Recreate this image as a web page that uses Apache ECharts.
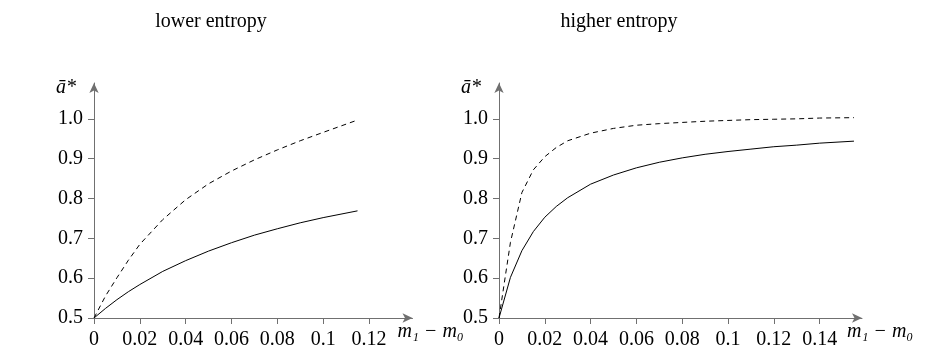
<!DOCTYPE html>
<html>
<head>
<meta charset="utf-8">
<script src="https://cdn.jsdelivr.net/npm/echarts@6/dist/echarts.min.js"></script>
<style>
html,body{margin:0;padding:0;background:#fff;}
#chart{width:930px;height:350px;}
</style>
</head>
<body>
<div id="chart"></div>
<script>
// ---- data ----
const titles = ['lower entropy', 'higher entropy'];
const yTicks = [0.5, 0.6, 0.7, 0.8, 0.9, 1.0];
const xTicksLeft = [0, 0.02, 0.04, 0.06, 0.08, 0.1, 0.12];
const xTicksRight = [0, 0.02, 0.04, 0.06, 0.08, 0.1, 0.12, 0.14];

const xLeft = [0, 0.005, 0.01, 0.015, 0.02, 0.03, 0.04, 0.05, 0.06, 0.07, 0.08, 0.09, 0.1, 0.115];
const leftSolid = [0.5, 0.524, 0.546, 0.566, 0.584, 0.617, 0.644, 0.668, 0.689, 0.708, 0.724, 0.739, 0.752, 0.769];
const leftDashed = [0.5, 0.555, 0.601, 0.645, 0.685, 0.747, 0.797, 0.837, 0.869, 0.897, 0.922, 0.945, 0.966, 0.997];

const xRight = [0, 0.005, 0.01, 0.015, 0.02, 0.025, 0.03, 0.04, 0.05, 0.06, 0.07, 0.08, 0.09, 0.1, 0.11, 0.12, 0.13, 0.14, 0.155];
const rightSolid = [0.5, 0.602, 0.669, 0.717, 0.753, 0.78, 0.802, 0.836, 0.859, 0.877, 0.891, 0.902, 0.911, 0.918, 0.924, 0.93, 0.934, 0.939, 0.944];
const rightDashed = [0.5, 0.69, 0.815, 0.872, 0.905, 0.928, 0.945, 0.964, 0.976, 0.984, 0.988, 0.991, 0.994, 0.996, 0.998, 0.999, 1.0, 1.002, 1.003];

const yName = 'ā*';
const xName = 'm₁ − m₀';

// ---- chart ----
const FONT = '"Liberation Serif", "DejaVu Serif", serif';
const AX = '#707070';
const FS = 20;
const chart = echarts.init(document.getElementById('chart'), null, {renderer: 'canvas'});

function pairs(xs, ys) { return xs.map((x, i) => [x, ys[i]]); }

function xAxisCfg(idx, max, ticks) {
  return {
    type: 'value', gridIndex: idx, min: 0, max: max,
    name: xName, nameLocation: 'end', nameGap: -15,
    nameTextStyle: {fontFamily: FONT, fontSize: FS, fontStyle: 'italic', color: '#000', verticalAlign: 'top', align: 'left', padding: [4, 0, 0, 0]},
    axisLine: {show: true, onZero: false, symbol: ['none', 'arrow'], symbolSize: [7, 10], lineStyle: {color: AX, width: 1}},
    axisTick: {show: true, length: 6, customValues: ticks, lineStyle: {color: AX}},
    axisLabel: {customValues: ticks, margin: 12, color: '#000', fontFamily: FONT, fontSize: FS,
      formatter: v => String(v)},
    splitLine: {show: false}
  };
}
function yAxisCfg(idx) {
  return {
    type: 'value', gridIndex: idx, min: 0.5, max: 1.09,
    name: yName, nameLocation: 'end', nameGap: 5,
    nameTextStyle: {fontFamily: FONT, fontSize: FS, fontStyle: 'italic', color: '#000', align: 'right', verticalAlign: 'top', padding: [0, 18, 0, 0]},
    axisLine: {show: true, onZero: false, symbol: ['none', 'arrow'], symbolSize: [7, 10], lineStyle: {color: AX, width: 1}},
    axisTick: {show: true, length: 6, customValues: yTicks, lineStyle: {color: AX}},
    axisLabel: {customValues: yTicks, margin: 11, color: '#000', fontFamily: FONT, fontSize: FS,
      formatter: v => v.toFixed(1)},
    splitLine: {show: false}
  };
}
function lineSeries(idx, data, dashed) {
  return {
    type: 'line', xAxisIndex: idx, yAxisIndex: idx, data: data,
    showSymbol: false, symbol: 'none', smooth: false, silent: true,
    lineStyle: {color: '#000', width: 1, type: dashed ? [5, 4] : 'solid'},
    z: 3
  };
}

const option = {
  animation: false,
  backgroundColor: '#fff',
  title: [
    {text: titles[0], left: 206, top: 7, textAlign: 'center', textStyle: {fontFamily: FONT, fontSize: FS, fontWeight: 'normal', color: '#000'}},
    {text: titles[1], left: 614, top: 7, textAlign: 'center', textStyle: {fontFamily: FONT, fontSize: FS, fontWeight: 'normal', color: '#000'}}
  ],
  grid: [
    {left: 94, top: 83, width: 318.5, height: 236, containLabel: false},
    {left: 499, top: 83, width: 363, height: 236, containLabel: false}
  ],
  xAxis: [xAxisCfg(0, 0.139, xTicksLeft), xAxisCfg(1, 0.1585, xTicksRight)],
  yAxis: [yAxisCfg(0), yAxisCfg(1)],
  series: [
    lineSeries(0, pairs(xLeft, leftDashed), true),
    lineSeries(0, pairs(xLeft, leftSolid), false),
    lineSeries(1, pairs(xRight, rightDashed), true),
    lineSeries(1, pairs(xRight, rightSolid), false)
  ]
};
chart.setOption(option);
</script>
</body>
</html>
